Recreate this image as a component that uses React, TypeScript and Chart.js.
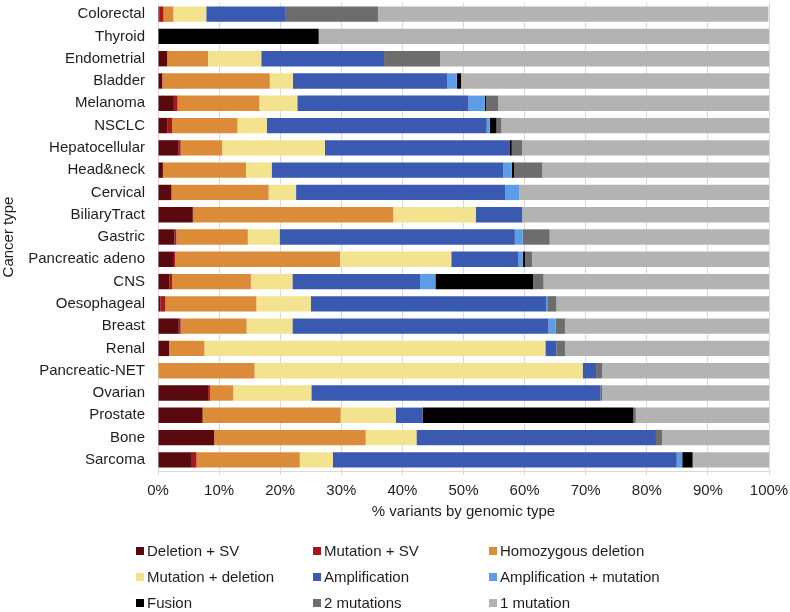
import React, { useEffect, useRef } from "react";
import { Chart, registerables } from "chart.js";

Chart.register(...registerables);

const categories = [
  "Colorectal", "Thyroid", "Endometrial", "Bladder", "Melanoma", "NSCLC",
  "Hepatocellular", "Head&neck", "Cervical", "BiliaryTract", "Gastric",
  "Pancreatic adeno", "CNS", "Oesophageal", "Breast", "Renal",
  "Pancreatic-NET", "Ovarian", "Prostate", "Bone", "Sarcoma",
];

const deletionSV = [0.2, 0, 1.5, 0.7, 2.6, 1.5, 3.3, 0.8, 2.2, 5.7, 2.7, 2.6, 1.9, 0.4, 3.4, 1.8, 0, 8.2, 7.3, 9.2, 5.4];
const mutationSV = [0.7, 0, 0, 0, 0.6, 0.8, 0.4, 0, 0, 0, 0.3, 0.2, 0.4, 0.8, 0.3, 0, 0, 0.3, 0, 0, 0.9];
const homozygousDeletion = [1.6, 0, 6.7, 17.6, 13.4, 10.7, 6.8, 13.6, 15.9, 32.8, 11.7, 27.0, 12.9, 14.9, 10.8, 5.8, 15.8, 3.8, 22.6, 24.8, 16.9];
const mutationDeletion = [5.4, 0, 8.7, 3.8, 6.2, 4.8, 16.8, 4.2, 4.5, 13.5, 5.2, 18.2, 6.8, 8.9, 7.5, 55.8, 53.7, 12.8, 9.0, 8.3, 5.4];
const amplification = [12.9, 0, 20.1, 25.2, 28.0, 36.0, 30.3, 37.9, 34.2, 7.6, 38.5, 11.0, 20.9, 38.5, 41.9, 1.8, 2.2, 47.3, 4.4, 39.2, 56.3];
const amplificationMutation = [0, 0, 0, 1.6, 2.7, 0.5, 0, 1.4, 2.3, 0, 1.3, 0.7, 2.5, 0.2, 1.2, 0, 0, 0, 0, 0, 0.9];
const fusion = [0, 26.3, 0, 0.7, 0.2, 1.1, 0.3, 0.4, 0, 0, 0, 0.4, 16.0, 0, 0, 0, 0, 0, 34.5, 0, 1.7];
const twoMutations = [15.2, 0, 9.2, 0, 2.0, 0.8, 1.7, 4.6, 0, 0, 4.4, 1.1, 1.7, 1.5, 1.5, 1.4, 1.0, 0.3, 0.4, 1.0, 0];
const oneMutation = [63.9, 73.7, 53.8, 50.4, 44.3, 43.8, 40.4, 37.1, 40.9, 40.4, 35.9, 38.8, 36.9, 34.8, 33.4, 33.4, 27.3, 27.3, 21.8, 17.5, 12.5];

const seriesNames = [
  "Deletion + SV", "Mutation + SV", "Homozygous deletion",
  "Mutation + deletion", "Amplification", "Amplification + mutation",
  "Fusion", "2 mutations", "1 mutation",
];
const seriesColors = [
  "#5a0a0e", "#a5181b", "#dc8c39", "#f3e28e", "#3a59b1", "#5b9de6",
  "#000000", "#6d6d6d", "#b3b3b3",
];
const seriesData = [
  deletionSV, mutationSV, homozygousDeletion, mutationDeletion,
  amplification, amplificationMutation, fusion, twoMutations, oneMutation,
];

const xTicks = [0, 10, 20, 30, 40, 50, 60, 70, 80, 90, 100];

const FONT = "'Liberation Sans', Arial, Helvetica, sans-serif";
const TEXT = "#1e1e1e";

const legendCols = [136, 313, 489];
const legendRows = [551, 577, 603];

export default function App() {
  const ref = useRef<HTMLCanvasElement | null>(null);

  useEffect(() => {
    if (!ref.current) return;
    const chart = new Chart(ref.current, {
      type: "bar",
      data: {
        labels: categories,
        datasets: seriesNames.map((name, i) => ({
          label: name,
          data: seriesData[i],
          backgroundColor: seriesColors[i],
          borderWidth: 0,
          barPercentage: 0.69,
          categoryPercentage: 1,
        })),
      },
      options: {
        indexAxis: "y",
        responsive: false,
        animation: false,
        maintainAspectRatio: false,
        layout: { padding: { left: 0, right: 21, top: 3, bottom: 91 } },
        plugins: { legend: { display: false }, tooltip: { enabled: false } },
        scales: {
          x: {
            stacked: true,
            min: 0,
            max: 100,
            afterBuildTicks: (scale: any) => {
              scale.ticks = xTicks.map((v) => ({ value: v }));
            },
            afterFit: (scale: any) => {
              scale.height = 50;
              scale.paddingLeft = 0;
              scale.paddingRight = 0;
            },
            grid: {
              color: "#d9d9d9",
              lineWidth: 1,
              drawTicks: true,
              tickLength: 4,
            },
            border: { display: true, color: "#d9d9d9" },
            ticks: {
              color: TEXT,
              font: { family: FONT, size: 15 },
              padding: 7,
              callback: (v: any) => v + "%",
            },
            title: {
              display: true,
              text: "% variants by genomic type",
              color: TEXT,
              font: { family: FONT, size: 15 },
              padding: { top: 0, bottom: 0 },
            },
          },
          y: {
            stacked: true,
            afterFit: (scale: any) => {
              scale.width = 158;
              scale.paddingTop = 0;
              scale.paddingBottom = 0;
            },
            grid: { display: false, drawTicks: false },
            border: { display: true, color: "#d9d9d9" },
            ticks: {
              color: TEXT,
              autoSkip: false,
              font: { family: FONT, size: 15 },
              padding: 13,
            },
            title: {
              display: true,
              text: "Cancer type",
              color: TEXT,
              font: { family: FONT, size: 15 },
              padding: { top: 0, bottom: 0 },
            },
          },
        },
      },
    });
    return () => chart.destroy();
  }, []);

  return (
    <div style={{ position: "absolute", left: 0, top: 0, width: 790, height: 612, background: "#fff" }}>
      <canvas ref={ref} width={790} height={612} style={{ width: 790, height: 612, display: "block" }} />
      {seriesNames.map((name, i) => {
        const col = i % 3;
        const row = Math.floor(i / 3);
        const left = legendCols[col];
        const cy = legendRows[row];
        return (
          <div
            key={name}
            style={{
              position: "absolute",
              left,
              top: cy - 9,
              height: 18,
              display: "flex",
              alignItems: "center",
              whiteSpace: "nowrap",
              fontFamily: FONT,
              fontSize: 15,
              lineHeight: "18px",
              color: TEXT,
            }}
          >
            <span style={{ display: "inline-block", width: 8, height: 8, background: seriesColors[i], marginRight: 3 }} />
            <span>{name}</span>
          </div>
        );
      })}
    </div>
  );
}
